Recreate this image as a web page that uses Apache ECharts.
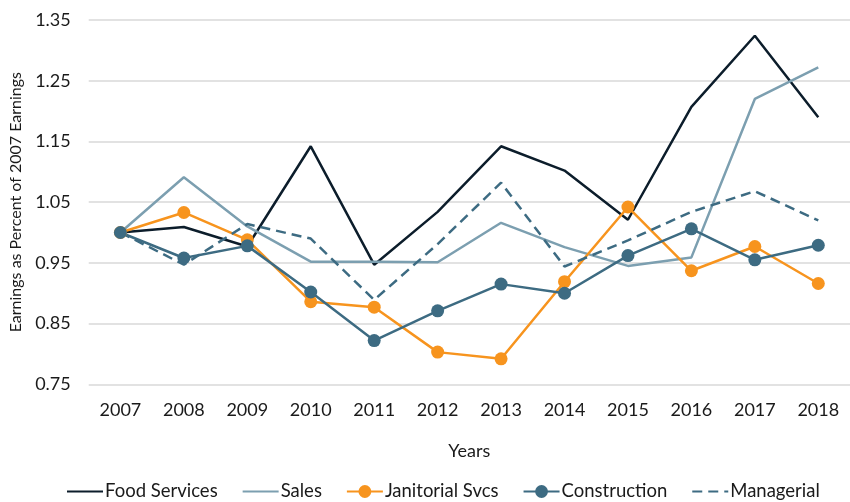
<!DOCTYPE html>
<html>
<head>
<meta charset="utf-8">
<script src="https://cdn.jsdelivr.net/npm/echarts@6/dist/echarts.min.js"></script>
<style>
  html, body { margin: 0; padding: 0; background: #fff; }
  #chart { width: 850px; height: 502px; }
</style>
</head>
<body>
<div id="chart"></div>
<script>
var years = ["2007", "2008", "2009", "2010", "2011", "2012", "2013", "2014", "2015", "2016", "2017", "2018"];
var foodServices = [1.00, 1.009, 0.977, 1.142, 0.947, 1.034, 1.142, 1.102, 1.021, 1.207, 1.324, 1.190];
var sales = [1.00, 1.091, 1.010, 0.952, 0.952, 0.951, 1.016, 0.976, 0.945, 0.959, 1.220, 1.272];
var janitorial = [1.00, 1.033, 0.988, 0.886, 0.877, 0.803, 0.792, 0.919, 1.042, 0.937, 0.977, 0.916];
var construction = [1.00, 0.958, 0.978, 0.902, 0.822, 0.871, 0.915, 0.900, 0.962, 1.006, 0.955, 0.979];
var managerial = [1.00, 0.947, 1.014, 0.990, 0.889, 0.981, 1.082, 0.944, 0.987, 1.034, 1.068, 1.020];

var font = "Lato";
var textColor = "#1a1a1a";
// line-only series get no dot in the legend
var noDot = { opacity: 0 };

var chart = echarts.init(document.getElementById("chart"));
chart.setOption({
  animation: false,
  textStyle: { fontFamily: font },
  grid: { left: 88.7, top: 20, width: 768, bottom: 117.7 },
  legend: {
    bottom: -4,
    left: 61,
    itemWidth: 36,
    itemHeight: 16,
    itemGap: 24,
    textStyle: { fontFamily: font, fontSize: 18.5, color: textColor, padding: [0, 0, 0, -3] },
    data: [
      { name: "Food Services", itemStyle: noDot },
      { name: "Sales", itemStyle: noDot },
      "Janitorial Svcs",
      "Construction",
      { name: "Managerial", itemStyle: noDot }
    ]
  },
  xAxis: {
    type: "category",
    data: years,
    name: "Years",
    nameLocation: "middle",
    nameGap: 58,
    nameTextStyle: { fontFamily: font, fontSize: 18, color: textColor },
    axisLine: { show: false },
    axisTick: { show: false },
    axisLabel: { fontFamily: font, fontSize: 18, color: textColor, margin: 17 }
  },
  yAxis: {
    type: "value",
    min: 0.75,
    max: 1.35,
    interval: 0.1,
    name: "Earnings as Percent of 2007 Earnings",
    nameLocation: "middle",
    nameGap: 64,
    nameTextStyle: { fontFamily: font, fontSize: 16, color: textColor },
    axisLine: { show: false },
    axisTick: { show: false },
    axisLabel: {
      fontFamily: font, fontSize: 18, color: textColor, margin: 18,
      formatter: function (v) { return v.toFixed(2); }
    },
    splitLine: { lineStyle: { color: "#d9d9d9", width: 1.5 } }
  },
  series: [
    {
      name: "Food Services", type: "line", data: foodServices,
      symbol: "none", color: "#0c1d2b",
      lineStyle: { width: 2.5, color: "#0c1d2b" }
    },
    {
      name: "Sales", type: "line", data: sales,
      symbol: "none", color: "#7c9fb0",
      lineStyle: { width: 2.5, color: "#7c9fb0" }
    },
    {
      name: "Janitorial Svcs", type: "line", data: janitorial,
      symbol: "circle", symbolSize: 13, color: "#f7941e",
      lineStyle: { width: 2.5, color: "#f7941e" },
      itemStyle: { color: "#f7941e" }
    },
    {
      name: "Construction", type: "line", data: construction,
      symbol: "circle", symbolSize: 13, color: "#3d6b82",
      lineStyle: { width: 2.5, color: "#3d6b82" },
      itemStyle: { color: "#3d6b82" }
    },
    {
      name: "Managerial", type: "line", data: managerial,
      symbol: "none", color: "#3d6b82",
      lineStyle: { width: 2.5, color: "#3d6b82", type: [10, 6] }
    }
  ]
});
</script>
</body>
</html>
